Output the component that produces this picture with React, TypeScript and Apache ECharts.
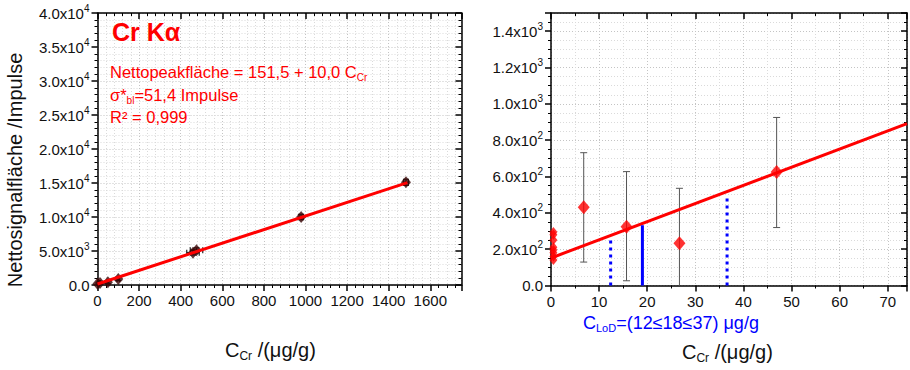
import React, { useEffect, useRef } from 'react';
import * as echarts from 'echarts';

// ---- Left panel: calibration data ----
const calConc = [0, 12, 50, 100, 459, 476, 979, 1483];
const calSignal = [200, 300, 400, 900, 4760, 5120, 10000, 15100];
const calConcErr = [3, 3, 5, 6, 30, 30, 10, 12];
const calSignalErr = [150, 150, 200, 250, 350, 350, 400, 450];

// ---- Fit ----
const fitIntercept = 151.5;
const fitSlope = 10.0;
const leftFitX = [0, 1490];
const rightFitX = [0, 74];

// ---- Right panel: blanks and low standards ----
const blankConc = [0.5, 0.5, 0.5, 0.5, 0.5, 0.5, 0.5, 0.5];
const blankSignal = [140, 160, 180, 195, 210, 250, 280, 295];
const lowConc = [6.8, 15.7, 26.7, 46.9];
const lowSignal = [431, 324, 233, 625];
const lowErrLow = [129, 26, -70, 319];
const lowErrHigh = [731, 627, 535, 925];

// ---- Limit of detection lines ----
const lodX = [12.4, 19.0, 36.6];
const lodTop = [268, 332, 489];
const lodDashed = [true, false, true];

// ---- Axis ranges / ticks ----
const leftXMax = 1750;
const leftXInterval = 200;
const leftYMax = 40000;
const leftYInterval = 5000;
const rightXMax = 74;
const rightXInterval = 10;
const rightYMax = 1500;
const rightYInterval = 200;

const FONT = '"Liberation Sans", Arial, sans-serif';

function sciLabel(v: number): string {
  if (v === 0) return '{m|0.0}';
  const e = Math.floor(Math.log10(v) + 1e-9);
  const m = (v / Math.pow(10, e)).toFixed(1);
  return `{m|${m}x10}{e|${e}}`;
}

const sciRich = {
  m: { fontSize: 15, fontFamily: FONT, color: '#111', lineHeight: 20 },
  e: { fontSize: 10, fontFamily: FONT, color: '#111', verticalAlign: 'top', lineHeight: 11 },
};

const gridLineStyle = { color: '#c4c4c4', type: [1, 2], width: 1 };
const minorGridLineStyle = { color: '#dadada', type: [1, 2], width: 1 };
const axisLine = { show: true, onZero: false, lineStyle: { color: '#000', width: 1.5 } };

function mainX(gridIndex: number, max: number, interval: number, minorN: number) {
  return {
    type: 'value', gridIndex, position: 'bottom', min: 0, max, interval,
    axisLine,
    axisTick: { show: true, inside: false, length: 6, lineStyle: { color: '#000', width: 1.5 } },
    minorTick: { show: true, splitNumber: minorN, length: 3, lineStyle: { color: '#000', width: 1 } },
    axisLabel: {
      show: true, margin: 8, fontSize: 15, fontFamily: FONT, color: '#111',
      formatter: (v: number) => (v % interval === 0 ? String(v) : ''),
    },
    splitLine: { show: true, lineStyle: gridLineStyle },
    minorSplitLine: { show: true, lineStyle: minorGridLineStyle },
  };
}
function mainY(gridIndex: number, max: number, interval: number, minorN: number) {
  return {
    type: 'value', gridIndex, position: 'left', min: 0, max, interval,
    axisLine,
    axisTick: { show: true, inside: false, length: 6, lineStyle: { color: '#000', width: 1.5 } },
    minorTick: { show: true, splitNumber: minorN, length: 3, lineStyle: { color: '#000', width: 1 } },
    axisLabel: {
      show: true, margin: 8, fontFamily: FONT,
      formatter: (v: number) => (v % interval === 0 ? sciLabel(v) : ''),
      rich: sciRich,
    },
    splitLine: { show: true, lineStyle: gridLineStyle },
    minorSplitLine: { show: true, lineStyle: minorGridLineStyle },
  };
}
function frameX(gridIndex: number, max: number, interval: number, minorN: number) {
  return {
    type: 'value', gridIndex, position: 'top', min: 0, max, interval,
    axisLine,
    axisTick: { show: true, inside: true, length: 6, lineStyle: { color: '#000', width: 1.5 } },
    minorTick: { show: true, splitNumber: minorN, length: 3, lineStyle: { color: '#000', width: 1 } },
    axisLabel: { show: false },
    splitLine: { show: false },
  };
}
function frameY(gridIndex: number, max: number, interval: number, minorN: number) {
  return {
    type: 'value', gridIndex, position: 'right', min: 0, max, interval,
    axisLine,
    axisTick: { show: true, inside: true, length: 6, lineStyle: { color: '#000', width: 1.5 } },
    minorTick: { show: true, splitNumber: minorN, length: 3, lineStyle: { color: '#000', width: 1 } },
    axisLabel: { show: false },
    splitLine: { show: false },
  };
}

function errorBarsXY(params: any, api: any) {
  const x = api.value(0), y = api.value(1), ex = api.value(2), ey = api.value(3);
  const a = api.coord([x, y - ey]);
  const b = api.coord([x, y + ey]);
  const c = api.coord([x - ex, y]);
  const d = api.coord([x + ex, y]);
  const st = { stroke: '#222', lineWidth: 1.2 };
  const cap = 3;
  return {
    type: 'group',
    children: [
      { type: 'line', shape: { x1: a[0], y1: a[1], x2: b[0], y2: b[1] }, style: st },
      { type: 'line', shape: { x1: a[0] - cap, y1: a[1], x2: a[0] + cap, y2: a[1] }, style: st },
      { type: 'line', shape: { x1: b[0] - cap, y1: b[1], x2: b[0] + cap, y2: b[1] }, style: st },
      { type: 'line', shape: { x1: c[0], y1: c[1], x2: d[0], y2: d[1] }, style: st },
      { type: 'line', shape: { x1: c[0], y1: c[1] - cap, x2: c[0], y2: c[1] + cap }, style: st },
      { type: 'line', shape: { x1: d[0], y1: d[1] - cap, x2: d[0], y2: d[1] + cap }, style: st },
    ],
  };
}

function errorBarsY(params: any, api: any) {
  const x = api.value(0), lo = api.value(1), hi = api.value(2);
  const a = api.coord([x, lo]);
  const b = api.coord([x, hi]);
  const st = { stroke: '#555', lineWidth: 1 };
  const cap = 3.5;
  return {
    type: 'group',
    children: [
      { type: 'line', shape: { x1: a[0], y1: a[1], x2: b[0], y2: b[1] }, style: st },
      { type: 'line', shape: { x1: a[0] - cap, y1: a[1], x2: a[0] + cap, y2: a[1] }, style: st },
      { type: 'line', shape: { x1: b[0] - cap, y1: b[1], x2: b[0] + cap, y2: b[1] }, style: st },
    ],
  };
}

export default function App() {
  const ref = useRef<HTMLDivElement>(null);
  useEffect(() => {
    if (!ref.current) return;
    const chart = echarts.init(ref.current, undefined, { renderer: 'svg' });

    const fit = (x: number) => fitIntercept + fitSlope * x;

    const series: any[] = [
      // left panel
      {
        type: 'custom', xAxisIndex: 0, yAxisIndex: 0, clip: true,
        renderItem: errorBarsXY,
        data: calConc.map((x, i) => [x, calSignal[i], calConcErr[i], calSignalErr[i]]),
        z: 2,
      },
      {
        type: 'scatter', xAxisIndex: 0, yAxisIndex: 0, symbol: 'diamond', symbolSize: [10, 12],
        itemStyle: { color: '#3a0505' },
        data: calConc.map((x, i) => [x, calSignal[i]]),
        z: 3,
      },
      {
        type: 'line', xAxisIndex: 0, yAxisIndex: 0, showSymbol: false, symbol: 'none',
        lineStyle: { color: '#ff0000', width: 3 },
        data: leftFitX.map((x) => [x, fit(x)]),
        z: 4,
      },
      // right panel
      {
        type: 'custom', xAxisIndex: 2, yAxisIndex: 2, clip: true,
        renderItem: errorBarsY,
        data: lowConc.map((x, i) => [x, lowErrLow[i], lowErrHigh[i]]),
        z: 2,
      },
      {
        type: 'line', xAxisIndex: 2, yAxisIndex: 2, showSymbol: false, symbol: 'none',
        lineStyle: { color: '#ff0000', width: 3 },
        data: rightFitX.map((x) => [x, fit(x)]),
        z: 3,
      },
      {
        type: 'scatter', xAxisIndex: 2, yAxisIndex: 2, symbol: 'diamond', symbolSize: [12, 14],
        itemStyle: { color: '#ff0000' },
        data: lowConc.map((x, i) => [x, lowSignal[i]]),
        z: 4,
      },
      {
        type: 'scatter', xAxisIndex: 2, yAxisIndex: 2, symbol: 'diamond', symbolSize: [8, 10],
        itemStyle: { color: '#ff0000' },
        data: blankConc.map((x, i) => [x, blankSignal[i]]),
        z: 4,
      },
      ...lodX.map((x, i) => ({
        type: 'line', xAxisIndex: 2, yAxisIndex: 2, showSymbol: false, symbol: 'none',
        lineStyle: { color: '#0000ff', width: 3, type: lodDashed[i] ? [3, 4] : 'solid' },
        data: [[x, 0], [x, lodTop[i]]],
        z: 5,
      })),
    ];

    const textBase = { fontFamily: FONT, fill: '#ff0000' };

    chart.setOption({
      animation: false,
      backgroundColor: '#fff',
      grid: [
        { left: 97.5, top: 13, width: 364, height: 272, containLabel: false },
        { left: 551, top: 13, width: 360, height: 272.5, containLabel: false },
      ],
      xAxis: [
        mainX(0, leftXMax, leftXInterval, 5),
        frameX(0, leftXMax, leftXInterval, 5),
        mainX(1, rightXMax, rightXInterval, 2),
        frameX(1, rightXMax, rightXInterval, 2),
      ],
      yAxis: [
        mainY(0, leftYMax, leftYInterval, 5),
        frameY(0, leftYMax, leftYInterval, 5),
        mainY(1, rightYMax, rightYInterval, 4),
        frameY(1, rightYMax, rightYInterval, 4),
      ],
      series,
      graphic: [
        {
          type: 'text', left: 112, top: 19, z: 10,
          style: { text: 'Cr Kα', font: `bold 25px ${FONT}`, fill: '#ff0000' },
        },
        {
          type: 'text', x: 110, y: 72, z: 10,
          style: {
            ...textBase,
            text: '{a|Nettopeakfläche = 151,5 + 10,0 C}{s|Cr}',
            verticalAlign: 'middle',
            rich: {
              a: { fontSize: 16.5, fontFamily: FONT, color: '#ff0000', lineHeight: 20 },
              s: { fontSize: 10, fontFamily: FONT, color: '#ff0000', verticalAlign: 'bottom', lineHeight: 12 },
            },
          },
        },
        {
          type: 'text', x: 110, y: 95, z: 10,
          style: {
            ...textBase,
            text: '{a|σ*}{s|bl}{a|=51,4 Impulse}',
            verticalAlign: 'middle',
            rich: {
              a: { fontSize: 16.5, fontFamily: FONT, color: '#ff0000', lineHeight: 20 },
              s: { fontSize: 10, fontFamily: FONT, color: '#ff0000', verticalAlign: 'bottom', lineHeight: 12 },
            },
          },
        },
        {
          type: 'text', x: 110, y: 117, z: 10,
          style: { ...textBase, text: 'R² = 0,999', fontSize: 16.5, verticalAlign: 'middle' },
        },
        {
          type: 'text', x: 15, y: 170, rotation: Math.PI / 2, z: 10,
          style: {
            text: 'Nettosignalfläche /Impulse', fontFamily: FONT, fontSize: 20, fill: '#111',
            align: 'center', verticalAlign: 'middle',
          },
        },
        {
          type: 'text', x: 225, y: 350, z: 10,
          style: {
            text: '{a|C}{s|Cr}{a| /(μg/g)}', verticalAlign: 'middle', fill: '#111',
            rich: {
              a: { fontSize: 20, fontFamily: FONT, color: '#111', lineHeight: 24 },
              s: { fontSize: 12, fontFamily: FONT, color: '#111', verticalAlign: 'bottom', lineHeight: 12 },
            },
          },
        },
        {
          type: 'text', x: 682, y: 352, z: 10,
          style: {
            text: '{a|C}{s|Cr}{a| /(μg/g)}', verticalAlign: 'middle', fill: '#111',
            rich: {
              a: { fontSize: 20, fontFamily: FONT, color: '#111', lineHeight: 24 },
              s: { fontSize: 12, fontFamily: FONT, color: '#111', verticalAlign: 'bottom', lineHeight: 12 },
            },
          },
        },
        {
          type: 'text', x: 583, y: 323, z: 10,
          style: {
            text: '{a|C}{s|LoD}{a|=(12≤18≤37) μg/g}', verticalAlign: 'middle', fill: '#0000ff',
            rich: {
              a: { fontSize: 18, fontFamily: FONT, color: '#0000ff', lineHeight: 20 },
              s: { fontSize: 11, fontFamily: FONT, color: '#0000ff', verticalAlign: 'bottom', lineHeight: 11 },
            },
          },
        },
      ],
    });
    return () => chart.dispose();
  }, []);

  return (
    <div
      ref={ref}
      style={{ position: 'absolute', left: 0, top: 0, width: 910, height: 370, background: '#fff' }}
    />
  );
}
